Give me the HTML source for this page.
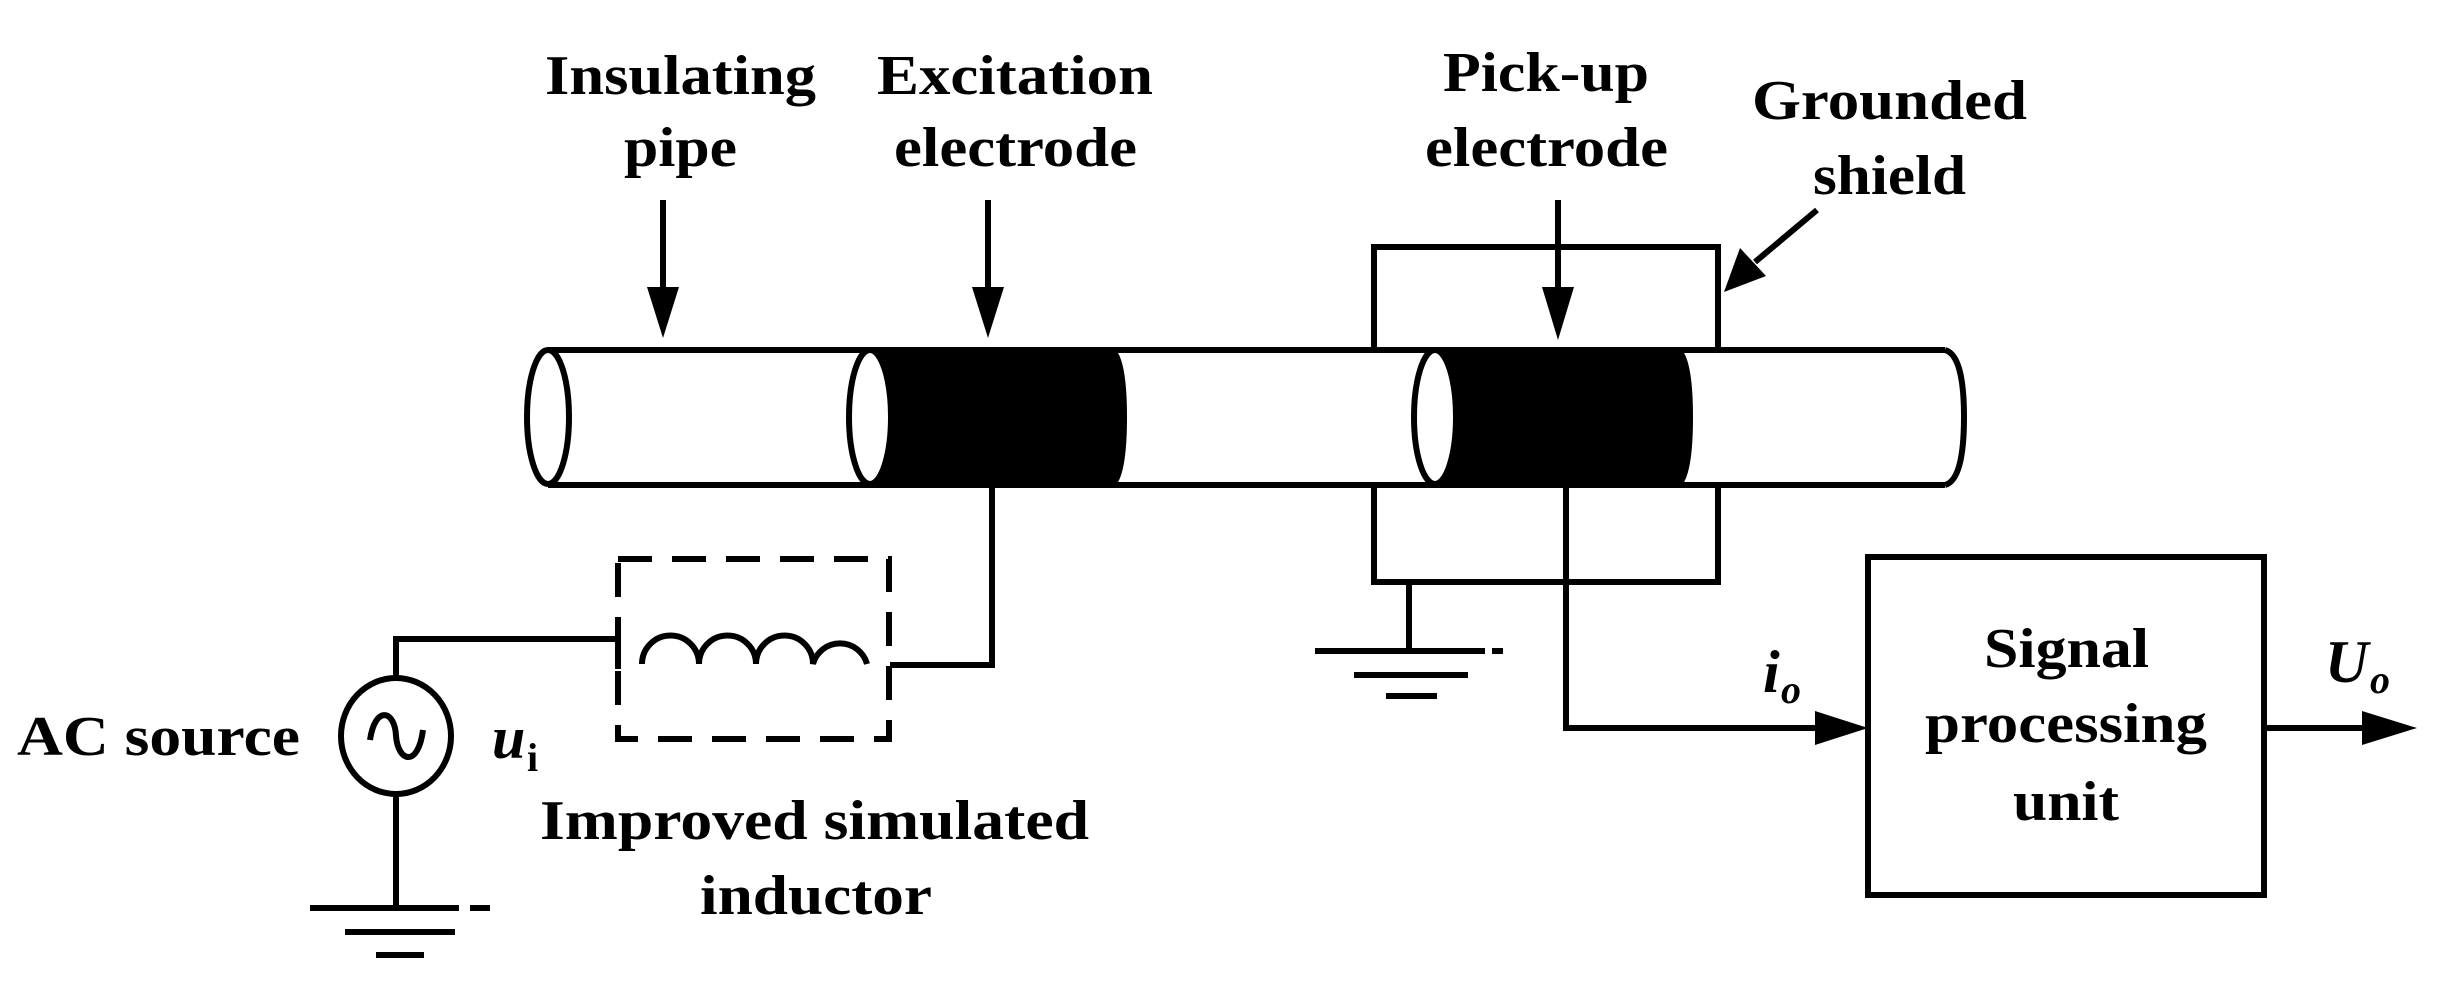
<!DOCTYPE html>
<html><head><meta charset="utf-8"><style>
html,body{margin:0;padding:0;background:#fff;}
svg{display:block;}
text{font-family:"Liberation Serif",serif;font-weight:bold;fill:#000;}
</style></head><body>
<svg width="2455" height="982" viewBox="0 0 2455 982" xmlns="http://www.w3.org/2000/svg">
<g stroke="#000" stroke-width="6" fill="none">
<line x1="548" y1="350" x2="1945" y2="350"/>
<line x1="548" y1="485" x2="1945" y2="485"/>
<path d="M1945 350 Q1964 355 1964 417 Q1964 480 1945 485"/>
<path d="M870 350 L1112 350 Q1124 360 1124 417 Q1124 475 1112 485 L870 485 Z" fill="#000"/>
<path d="M1435 350 L1678 350 Q1690 360 1690 417 Q1690 475 1678 485 L1435 485 Z" fill="#000"/>
<ellipse cx="548" cy="417" rx="21" ry="67" fill="#fff"/>
<ellipse cx="870" cy="417" rx="21" ry="67" fill="#fff"/>
<ellipse cx="1435" cy="417" rx="21" ry="67" fill="#fff"/>
<polyline points="1374,350 1374,247 1718,247 1718,350"/>
<polyline points="1374,485 1374,582 1718,582 1718,485"/>
<line x1="1409" y1="582" x2="1409" y2="651"/>
<line x1="1315" y1="651" x2="1485" y2="651"/>
<line x1="1492" y1="651" x2="1503" y2="651"/>
<line x1="1354" y1="675" x2="1468" y2="675"/>
<line x1="1386" y1="696" x2="1437" y2="696"/>
<polyline points="992,485 992,665 890,665"/>
<rect x="618" y="559" width="271" height="180" stroke-dasharray="34,20"/>
<line x1="618" y1="626" x2="618" y2="669"/>
<path d="M642 664 A28 28 0 0 1 699 664 A28 28 0 0 1 756 664 A28 28 0 0 1 813 664 A28 28 0 0 1 867 664"/>
<polyline points="396,680 396,639 618,639"/>
<ellipse cx="396" cy="736" rx="55" ry="58"/>
<path d="M370 740 C375 705 395 710 396 736 C398 762 418 768 423 730"/>
<line x1="396" y1="794" x2="396" y2="908"/>
<line x1="310" y1="908" x2="459" y2="908"/>
<line x1="470" y1="908" x2="490" y2="908"/>
<line x1="345" y1="932" x2="455" y2="932"/>
<line x1="376" y1="955" x2="424" y2="955"/>
<polyline points="1566,485 1566,728 1820,728"/>
<rect x="1868" y="557" width="396" height="338"/>
<line x1="2264" y1="728" x2="2365" y2="728"/>
<line x1="663" y1="200" x2="663" y2="295"/>
<line x1="988" y1="200" x2="988" y2="295"/>
<line x1="1558" y1="200" x2="1558" y2="295"/>
<line x1="1817" y1="210" x2="1755" y2="262"/>
</g>
<g fill="#000">
<polygon points="647,287 679,287 663,338"/>
<polygon points="972,287 1004,287 988,338"/>
<polygon points="1542,287 1574,287 1558,340"/>
<polygon points="1740,248 1766,276 1724,292"/>
<polygon points="1815,711 1815,745 1868,728"/>
<polygon points="2362,711 2362,745 2417,728"/>
</g>
<g font-size="56">
<text x="545" y="94" textLength="271" lengthAdjust="spacingAndGlyphs">Insulating</text>
<text x="624" y="166" textLength="113" lengthAdjust="spacingAndGlyphs">pipe</text>
<text x="877" y="94" textLength="276" lengthAdjust="spacingAndGlyphs">Excitation</text>
<text x="894" y="166" textLength="243" lengthAdjust="spacingAndGlyphs">electrode</text>
<text x="1443" y="91" textLength="206" lengthAdjust="spacingAndGlyphs">Pick-up</text>
<text x="1425" y="166" textLength="243" lengthAdjust="spacingAndGlyphs">electrode</text>
<text x="1752" y="119" textLength="275" lengthAdjust="spacingAndGlyphs">Grounded</text>
<text x="1813" y="194" textLength="153" lengthAdjust="spacingAndGlyphs">shield</text>
<text x="17" y="755" textLength="283" lengthAdjust="spacingAndGlyphs">AC source</text>
<text x="540" y="839" textLength="549" lengthAdjust="spacingAndGlyphs">Improved simulated</text>
<text x="700" y="914" textLength="232" lengthAdjust="spacingAndGlyphs">inductor</text>
<text x="1984" y="667" textLength="165" lengthAdjust="spacingAndGlyphs">Signal</text>
<text x="1925" y="742" textLength="282" lengthAdjust="spacingAndGlyphs">processing</text>
<text x="2013" y="820" textLength="106" lengthAdjust="spacingAndGlyphs">unit</text>
<text x="492" y="758" font-style="italic" font-size="60">u</text>
<text x="527" y="771" font-weight="normal" font-size="40">i</text>
<text x="1763" y="692" font-style="italic" font-size="60">i</text>
<text x="1781" y="703" font-style="italic" font-size="40">o</text>
<text x="2325" y="682" font-style="italic" font-size="60">U</text>
<text x="2370" y="693" font-style="italic" font-size="40">o</text>
</g>
</svg>
</body></html>
